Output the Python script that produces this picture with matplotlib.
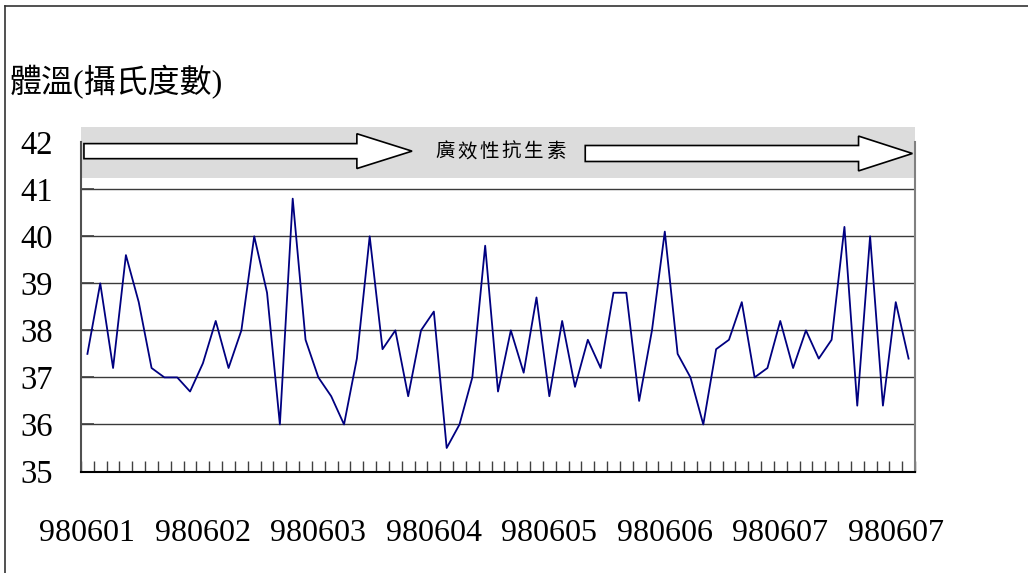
import numpy as np
import matplotlib.pyplot as plt
from matplotlib.patches import Rectangle, Polygon
from matplotlib.lines import Line2D
from matplotlib.transforms import blended_transform_factory

# Data ==================================================================================================================
# =======================================================================================================================

temps = [37.5, 39.0, 37.2, 39.6, 38.6, 37.2, 37.0, 37.0, 36.7, 37.3, 38.2, 37.2, 38.0, 40.0, 38.8, 36.0, 40.8,
         37.8, 37.0, 36.6, 36.0,
         37.4, 40.0, 37.6, 38.0, 36.6, 38.0, 38.4, 35.5, 36.0, 37.0, 39.8, 36.7, 38.0, 37.1, 38.7, 36.6, 38.2,
         36.8, 37.8, 37.2, 38.8, 38.8, 36.5,
         38.0, 40.1, 37.5, 37.0, 36.0, 37.6, 37.8, 38.6, 37.0, 37.2, 38.2, 37.2, 38.0, 37.4, 37.8, 40.2, 36.4,
         40.0, 36.4, 38.6, 37.4]
date_labels = ['980601', '980602', '980603', '980604', '980605', '980606', '980607', '980607']
date_every = 9
y_ticks = [35, 36, 37, 38, 39, 40, 41, 42]
grid_levels = [36, 37, 38, 39, 40, 41]
drug_label = '廣效性抗生素'

SERIF = ['Liberation Serif', 'Noto Sans CJK TC']
CJK = ['Noto Sans CJK TC', 'DejaVu Sans']

# Figure ================================================================================================================
# =======================================================================================================================

fig = plt.figure(figsize=(10.28, 5.73), dpi=100)
ax = fig.add_axes([81/1028, 1 - 471.5/573, 834/1028, (471.5 - 142.2)/573])

x = np.arange(len(temps))
ax.set_xlim(-0.5, len(temps) - 0.5)
ax.set_ylim(35, 42)

for lv in grid_levels:
    ax.axhline(lv, color='#3a3a3a', lw=1.0, zorder=1)

ax.plot(x, temps, color='#000080', lw=1.3, zorder=3)

# gray band with arrows and label
trans = blended_transform_factory(ax.transAxes, ax.transData)
ax.add_patch(Rectangle((0, 41.24), 1, 1.08, transform=trans, facecolor='#dcdcdc',
                       edgecolor='none', clip_on=False, zorder=2))


def arrow(x0, xb, xt, yc, hs, hh):
    pts = [(x0, yc + hs), (xb, yc + hs), (xb, yc + hh), (xt, yc), (xb, yc - hh), (xb, yc - hs), (x0, yc - hs)]
    ax.add_patch(Polygon(pts, closed=True, facecolor='white', edgecolor='black', lw=1.2,
                         clip_on=False, zorder=4))


arrow(-0.27, 21.0, 25.3, 41.81, 0.16, 0.37)
arrow(38.8, 60.1, 64.3, 41.76, 0.17, 0.37)

# spaced-out label, one glyph at a time
for k, ch in enumerate(drug_label):
    ax.text(32.2 + (k - 2.5) * 1.72, 41.80, ch, ha='center', va='center', fontsize=14, family=CJK, zorder=5)

# axes styling
ax.spines['top'].set_visible(False)
ax.spines['left'].set_color('#505050')
ax.spines['left'].set_linewidth(1.5)
ax.spines['bottom'].set_color('black')
ax.spines['bottom'].set_linewidth(1.5)
ax.spines['right'].set_color('#808080')
ax.spines['right'].set_linewidth(1.5)
for s in ax.spines.values():
    s.set_zorder(6)

ax.set_yticks(y_ticks)
ax.set_yticklabels([str(v) for v in y_ticks], fontsize=23.5, family=SERIF)
ax.tick_params(axis='y', direction='in', length=9, width=1.2, color='#404040', pad=20)

ax.set_xticks(x[::date_every])
ax.set_xticklabels(date_labels, fontsize=23, family=SERIF)
ax.set_xticks(np.arange(-0.5, len(temps) + 0.5, 1.0), minor=True)
ax.tick_params(axis='x', which='major', length=0, pad=34)
ax.tick_params(axis='x', which='minor', direction='in', length=8, width=1.0, color='#404040')

# title and frame
fig.text(10/1028, 1 - 82/573, '體溫(攝氏度數)', ha='left', va='center', fontsize=23, family=SERIF)
fig.add_artist(Line2D([4.5/1028, 4.5/1028], [0, 1 - 5.5/573], color='#333333', lw=1.2))
fig.add_artist(Line2D([4.5/1028, 1], [1 - 5.5/573, 1 - 5.5/573], color='#333333', lw=1.2))

fig.savefig('out.png', dpi=100)
